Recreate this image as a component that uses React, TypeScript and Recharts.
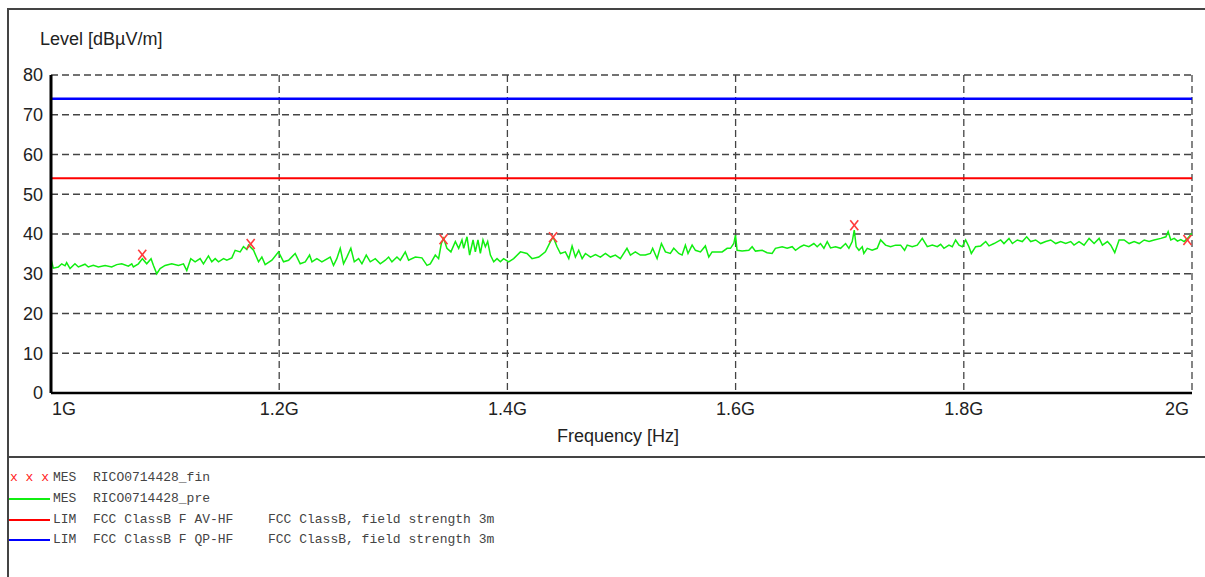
import { ComposedChart, Line, Scatter, XAxis, YAxis, CartesianGrid } from "recharts";

// frequency in MHz, level in dBµV/m
const FREQ_PRE = [
  1000, 1002, 1006.4, 1009.4, 1012.3, 1013.7, 1016.7, 1021, 1024, 1029.8, 1032.7, 1037.1, 1041.5, 1047.4, 1053.2,
  1057.6, 1062, 1067.8, 1070.8, 1072.2, 1076.6, 1080.1, 1083.9, 1087.7, 1089.8, 1092.7, 1095.6, 1100, 1105.8,
  1111.7, 1116.1, 1119, 1122.5, 1126.3, 1130.7, 1133.6, 1138, 1140.9, 1143.9, 1146.8, 1151.2, 1154.1, 1158.5,
  1161.4, 1165.8, 1168.7, 1171.6, 1173.1, 1177.5, 1181.9, 1184.8, 1187.7, 1193.6, 1199.4, 1203.8, 1208.2, 1214,
  1218.4, 1222.8, 1226.6, 1228.7, 1233, 1237.4,
  1244.7, 1247.6, 1250.5, 1253.5, 1256.4, 1259.3, 1262.8, 1265.8, 1269.6, 1272.5, 1276.3, 1279.8, 1284.2, 1288.6,
  1293, 1295.9, 1298.8, 1303.2, 1306.1, 1310.5, 1313.4, 1319.3, 1325.1, 1329.5, 1332.4, 1336.8, 1339.7, 1342.1,
  1344.1, 1347, 1350.5, 1354.4, 1357.3, 1360.2, 1361.7, 1364.6, 1366.9, 1369.9, 1371.9, 1374.2, 1376.3, 1378.6,
  1380.7, 1382.7, 1385.1, 1388, 1390.9, 1393.8, 1396.7, 1401.1, 1405.5, 1411.4, 1417.2, 1421.6, 1427.5, 1433.3,
  1437.7, 1440, 1443.5, 1446.5, 1450.8, 1453.8, 1456.7, 1459.6, 1462.5, 1465.5, 1468.4, 1472.8, 1477.2, 1481.5,
  1485.9, 1490.3,
  1494.6, 1499, 1504.8, 1507.8, 1512.1, 1516.5, 1520.9, 1525.3, 1527.3, 1531.2, 1535, 1538.5, 1542.8, 1545.8,
  1550.2, 1553.1, 1556, 1558.3, 1561.9, 1564.8, 1569.2, 1573.5, 1576.5, 1579.4, 1583.8, 1588.2, 1592.6, 1595.5,
  1598.4, 1599.9, 1601.3, 1605.7, 1611.6, 1614.5, 1617.4, 1623.3, 1627.6, 1632, 1634.9, 1640.8, 1645.2, 1649.6,
  1652.5, 1656.9, 1659.8, 1664.2, 1668.6, 1671.5, 1674.4, 1677.4, 1680.3, 1683.2, 1687.6, 1692, 1696.4, 1699.3,
  1702.2, 1704, 1705.7, 1708.1, 1711, 1712.4, 1715.4, 1719.7, 1724.1, 1727.1, 1731.4, 1735.8, 1740.2,
  1744.6, 1748.1, 1750.4, 1754.8, 1759.2, 1763.6, 1768, 1772.4, 1776.8, 1779.7, 1782.6, 1787, 1789.9, 1792.8,
  1795.8, 1798.7, 1801.6, 1804.5, 1806.6, 1810.4, 1814.8, 1819.2, 1822.1, 1826.5, 1832.3, 1835.2, 1839.6, 1842.6,
  1846.9, 1851.3, 1855.1, 1858.6, 1863, 1867.4, 1871.8, 1876.2, 1880.6, 1884.9, 1889.3, 1893.7, 1896.6, 1901,
  1905.4, 1909.8, 1914.2, 1918.6, 1921.5, 1925.9, 1928.8, 1932.3, 1936.1, 1940.5, 1944.9, 1949.3, 1953.7, 1958.1,
  1962.4, 1966.8, 1972.7, 1977.1, 1979.1, 1981.4, 1984.4, 1987.3, 1990.2, 1993.1, 1996.1, 2000,
];

const LEVEL_PRE = [
  33.8, 31.4, 31.7, 32.5, 32.0, 32.8, 31.3, 32.5, 31.7, 32.4, 31.7, 32.1, 31.7, 32.1, 31.7,
  32.3, 32.5, 31.9, 32.5, 31.7, 32.5, 33.8, 32.5, 33.8, 32.1, 30.0, 31.3, 32.1, 32.5,
  32.1, 32.5, 30.8, 33.8, 33.0, 33.8, 32.5, 34.5, 33.0, 33.8, 33.0, 33.8, 33.4, 34.0,
  35.9, 35.5, 36.8, 36.1, 37.2, 35.9, 33.0, 34.2, 32.3, 33.4, 35.5, 33.0, 33.4, 35.1,
  32.5, 33.0, 34.7, 33.0, 33.8, 33.0,
  34.2, 32.1, 33.8, 36.4, 32.5, 34.2, 36.4, 33.0, 33.8, 32.5, 34.7, 33.0, 33.8, 32.5,
  33.4, 34.2, 33.0, 34.2, 33.4, 35.5, 33.4, 34.2, 34.0, 32.1, 32.5, 34.7, 33.8, 37.6,
  38.9, 36.4, 35.5, 38.1, 36.4, 38.5, 36.4, 39.3, 34.7, 38.5, 35.5, 38.5, 35.1, 38.5,
  36.8, 38.1, 34.7, 33.0, 33.8, 33.0, 33.8, 33.0, 33.8, 35.5, 35.1, 33.8, 34.2, 35.5,
  38.1, 39.3, 36.8, 35.1, 35.5, 33.8, 37.0, 34.2, 35.9, 33.8, 35.1, 34.2, 34.8, 34.2,
  35.1, 34.2,
  34.7, 33.8, 36.4, 34.7, 35.5, 34.7, 34.7, 35.1, 36.4, 33.8, 37.6, 35.5, 35.1, 36.4,
  35.1, 34.7, 37.2, 35.1, 37.2, 35.9, 35.5, 37.0, 34.2, 35.5, 35.5, 35.5, 36.4, 36.4,
  37.6, 39.7, 35.9, 35.7, 35.9, 36.8, 35.7, 35.9, 35.3, 35.1, 36.4, 36.8, 36.4, 36.8,
  35.9, 36.8, 37.2, 36.8, 37.6, 36.8, 37.6, 36.4, 38.1, 36.5, 36.8, 36.4, 37.6, 36.4,
  38.1, 41.0, 36.8, 35.9, 36.8, 35.1, 36.4, 35.9, 36.4, 38.5, 37.2, 36.8, 37.2,
  37.2, 35.9, 37.2, 36.8, 37.2, 38.9, 36.8, 37.2, 36.8, 37.4, 36.4, 37.2, 36.8, 38.5,
  37.2, 36.8, 38.5, 36.8, 35.1, 36.8, 37.0, 38.1, 37.0, 37.6, 38.5, 37.6, 38.9, 37.6,
  38.5, 38.1, 39.3, 38.1, 38.5, 37.6, 38.1, 38.5, 37.6, 38.1, 37.6, 38.1, 37.2, 38.1,
  37.2, 38.9, 37.6, 38.9, 37.2, 38.1, 37.2, 35.3, 38.5, 38.5, 37.6, 38.1, 37.6, 38.5,
  38.1, 38.5, 38.9, 39.3, 40.6, 38.5, 38.9, 38.2, 38.6, 38.1, 38.9, 40.2,
];

const FREQ_FIN = [1080, 1175, 1344, 1440, 1704, 1996];
const LEVEL_FIN = [34.8, 37.5, 38.7, 39.2, 42.2, 38.5];

const LIMIT_FREQ = [1000, 2000];
const LIMIT_AV = [54, 54];
const LIMIT_QP = [74, 74];

const X_TICKS = [1000, 1200, 1400, 1600, 1800, 2000];
const X_LABELS = ["1G", "1.2G", "1.4G", "1.6G", "1.8G", "2G"];
const Y_TICKS = [0, 10, 20, 30, 40, 50, 60, 70, 80];

const preData = FREQ_PRE.map((freq, i) => ({ freq, level: LEVEL_PRE[i] }));
const finData = FREQ_FIN.map((freq, i) => ({ freq, level: LEVEL_FIN[i] }));
const avData = LIMIT_FREQ.map((freq, i) => ({ freq, level: LIMIT_AV[i] }));
const qpData = LIMIT_FREQ.map((freq, i) => ({ freq, level: LIMIT_QP[i] }));

const SANS = "Arial, 'Liberation Sans', sans-serif";
const MONO = "'Courier New', 'Liberation Mono', monospace";

const XTick = ({ x, y, payload }: any) => {
  const i = X_TICKS.indexOf(payload.value);
  const anchor = i === 0 ? "start" : i === X_TICKS.length - 1 ? "end" : "middle";
  return (
    <text x={i === 0 ? x + 1 : x} y={y} dy={22} textAnchor={anchor} fill="#222" fontSize={18} fontFamily={SANS}>
      {X_LABELS[i]}
    </text>
  );
};

const Cross = ({ cx, cy }: any) => (
  <g stroke="#ff3b3b" strokeWidth={1.6}>
    <line x1={cx - 4} y1={cy - 5} x2={cx + 4} y2={cy + 5} />
    <line x1={cx - 4} y1={cy + 5} x2={cx + 4} y2={cy - 5} />
  </g>
);

const LEGEND_ROWS = [
  { kind: "marks", color: "#ff2020", tag: "MES", name: "RICO0714428_fin", note: "" },
  { kind: "line", color: "#11ee11", tag: "MES", name: "RICO0714428_pre", note: "" },
  { kind: "line", color: "#ff0000", tag: "LIM", name: "FCC ClassB F AV-HF", note: "FCC ClassB, field strength 3m" },
  { kind: "line", color: "#0000ff", tag: "LIM", name: "FCC ClassB F QP-HF", note: "FCC ClassB, field strength 3m" },
];

const legendText = (left: number, top: number, color: string) => ({
  position: "absolute" as const,
  left,
  top,
  fontFamily: MONO,
  fontSize: 13,
  lineHeight: "16px",
  color,
  whiteSpace: "pre" as const,
});

export default function App() {
  return (
    <div style={{ position: "fixed", left: 0, top: 0, width: 1205, height: 577, overflow: "hidden", background: "#fff" }}>
      <div style={{ position: "absolute", left: 7, top: 8, width: 1198, height: 2, background: "#444" }} />
      <div style={{ position: "absolute", left: 7, top: 8, width: 2, height: 569, background: "#444" }} />
      <div style={{ position: "absolute", left: 7, top: 456, width: 1198, height: 2, background: "#444" }} />

      <div style={{ position: "absolute", left: 40, top: 30, fontSize: 18, lineHeight: "18px", fontFamily: SANS, color: "#222" }}>
        Level [dBµV/m]
      </div>
      <div style={{ position: "absolute", left: 557, top: 427, fontSize: 18, lineHeight: "18px", fontFamily: SANS, color: "#222" }}>
        Frequency [Hz]
      </div>

      <div style={{ position: "absolute", left: 0, top: 0, width: 1205, height: 457 }}>
        <ComposedChart width={1205} height={457} margin={{ top: 75, right: 13, left: 11, bottom: 34 }}>
          <CartesianGrid stroke="#444" strokeDasharray="7 4" strokeWidth={1.3} />
          <XAxis
            dataKey="freq"
            type="number"
            domain={[1000, 2000]}
            ticks={X_TICKS}
            allowDataOverflow
            height={30}
            tickLine={false}
            tickSize={0}
            tickMargin={0}
            tick={<XTick />}
            axisLine={{ stroke: "#000", strokeWidth: 2.5 }}
          />
          <YAxis
            type="number"
            domain={[0, 80]}
            ticks={Y_TICKS}
            width={40}
            tickLine={false}
            tickSize={0}
            tickMargin={8}
            tick={{ fill: "#222", fontSize: 18, fontFamily: SANS }}
            axisLine={{ stroke: "#000", strokeWidth: 3 }}
          />
          <Line data={qpData} dataKey="level" stroke="#0000ff" strokeWidth={2.5} dot={false} isAnimationActive={false} />
          <Line data={avData} dataKey="level" stroke="#ff0000" strokeWidth={2} dot={false} isAnimationActive={false} />
          <Line data={preData} dataKey="level" type="linear" stroke="#11ee11" strokeWidth={1.5} dot={false} isAnimationActive={false} />
          <Scatter data={finData} dataKey="level" shape={<Cross />} isAnimationActive={false} />
        </ComposedChart>
      </div>

      {LEGEND_ROWS.map((row, i) => {
        const cy = 478 + i * 20.8;
        return (
          <div key={i}>
            {row.kind === "marks" ? (
              <div style={legendText(10, cy - 8, row.color)}>x x x</div>
            ) : (
              <div style={{ position: "absolute", left: 9, top: cy - 1, width: 41, height: 2, background: row.color }} />
            )}
            <div style={legendText(53, cy - 8, "#444")}>{row.tag}</div>
            <div style={legendText(93, cy - 8, "#444")}>{row.name}</div>
            {row.note && <div style={legendText(268, cy - 8, "#444")}>{row.note}</div>}
          </div>
        );
      })}
    </div>
  );
}
